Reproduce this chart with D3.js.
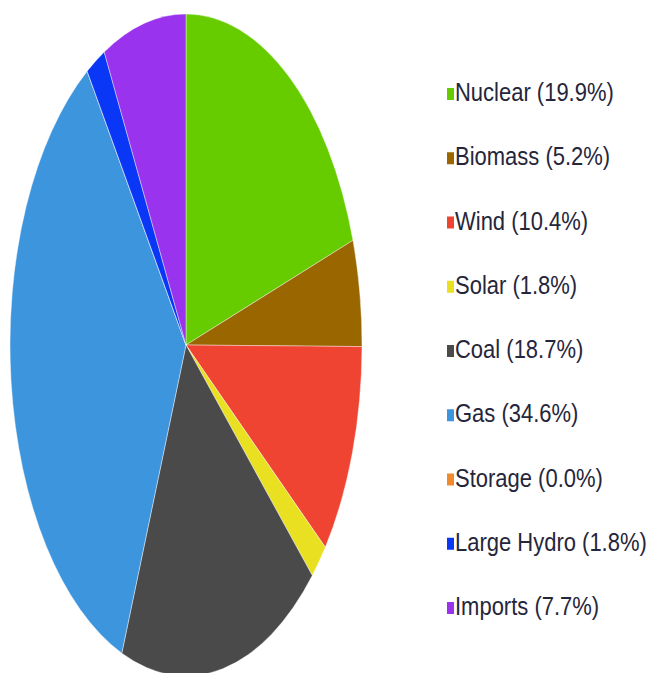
<!DOCTYPE html>
<html>
<head>
<meta charset="utf-8">
<script src="https://d3js.org/d3.v7.min.js"></script>
<style>
  body { margin: 0; background: #fff; }
  svg { display: block; }
</style>
</head>
<body>
<script>
// fuel mix shares, clockwise from 12 o'clock
var sources = ["Nuclear", "Biomass", "Wind", "Solar", "Coal", "Gas", "Storage", "Large Hydro", "Imports"];
var shares = [19.9, 5.2, 10.4, 1.8, 18.7, 34.6, 0.0, 1.8, 7.7];
var colors = ["#66cc00", "#996600", "#f04433", "#e8e020", "#4a4a4a", "#3d95de", "#f08a2a", "#0a36f5", "#9933ee"];

var width = 649, height = 673;
var cx = 186, cy = 345, rx = 176, ry = 331;

var svg = d3.select("body").append("svg")
    .attr("width", width)
    .attr("height", height);

var data = sources.map(function(s, i) { return { name: s, value: shares[i], color: colors[i] }; });

var pie = d3.pie().sort(null).value(function(d) { return d.value; });
var arc = d3.arc().innerRadius(0).outerRadius(rx);

// the pie is stretched vertically into an ellipse
var g = svg.append("g")
    .attr("transform", "translate(" + cx + "," + cy + ") scale(1," + (ry / rx) + ")");

g.selectAll("path")
  .data(pie(data))
  .enter().append("path")
    .attr("d", arc)
    .attr("fill", function(d) { return d.data.color; })
    .attr("stroke", "#fff")
    .attr("stroke-opacity", 0.5)
    .attr("stroke-width", 0.8)
    .attr("vector-effect", "non-scaling-stroke");

// legend
var rowY = d3.scalePoint().domain(sources).range([94, 608]);

var legend = svg.append("g");
var item = legend.selectAll("g")
  .data(data)
  .enter().append("g")
    .attr("transform", function(d) { return "translate(447," + rowY(d.name) + ")"; });

item.append("rect")
    .attr("x", 0)
    .attr("y", -6)
    .attr("width", 7)
    .attr("height", 12)
    .attr("fill", function(d) { return d.color; });

item.append("text")
    .attr("x", 8)
    .attr("y", 0)
    .attr("transform", "translate(0,7) scale(1,1.2)")
    .attr("font-family", "Liberation Sans, Arial, sans-serif")
    .attr("font-size", 22)
    .attr("fill", "#26263a")
    .text(function(d) { return d.name + " (" + d.value.toFixed(1) + "%)"; });
</script>
</body>
</html>
